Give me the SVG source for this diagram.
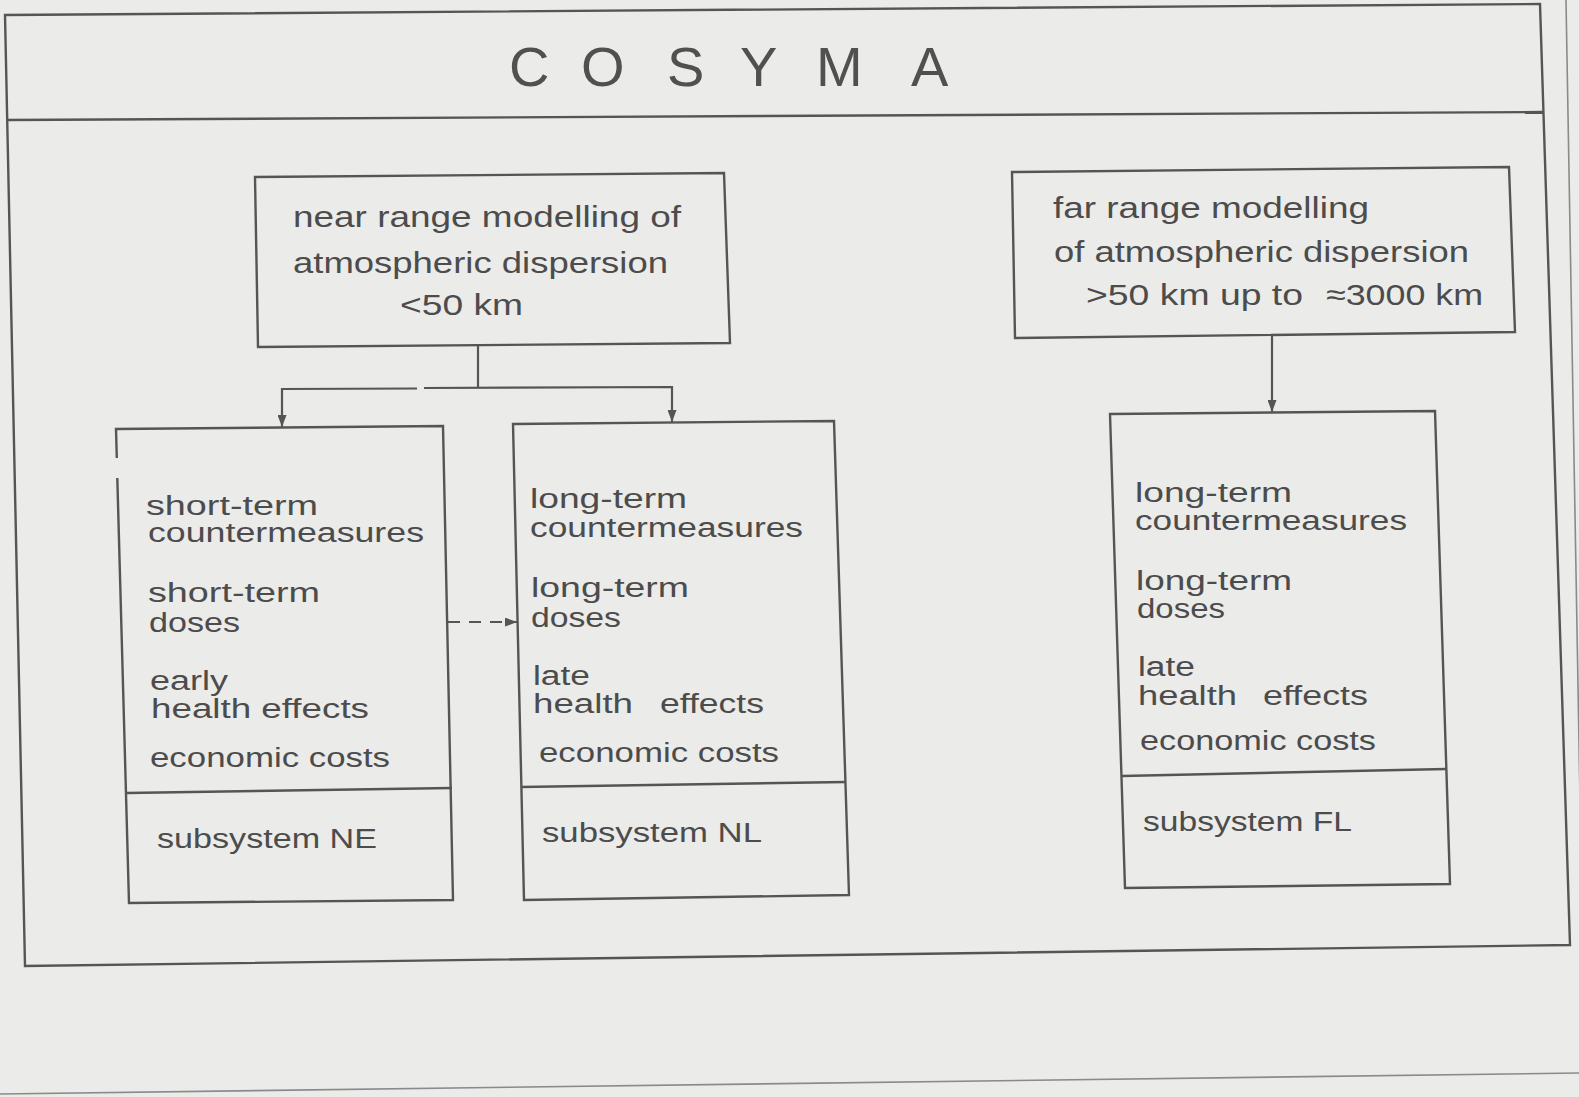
<svg xmlns="http://www.w3.org/2000/svg" width="1579" height="1097" viewBox="0 0 1579 1097">
<style>
.ln{fill:none;stroke:#555;stroke-width:2.4;stroke-linejoin:miter}
.pg{fill:none;stroke:#8a8a8a;stroke-width:1.6}
.t{font-family:"Liberation Sans",Arial,sans-serif;fill:#4c4c4c}
.tt{font-size:30px}
.tb{font-size:27px}
.ttl{font-family:"Liberation Sans",Arial,sans-serif;font-size:56px;fill:#505050}
.con{fill:none;stroke:#555;stroke-width:2.2}
</style>
<defs>
<marker id="ah" viewBox="0 0 12 9" markerWidth="12" markerHeight="9" refX="12" refY="4.5" orient="auto" markerUnits="userSpaceOnUse">
<path d="M0,0 L12,4.5 L0,9 z" fill="#555"/>
</marker>
</defs>
<rect width="1579" height="1097" fill="#ebebe9"/>
<g id="page">
<line class="pg" x1="1566" y1="0" x2="1580" y2="800"/>
<line class="pg" x1="0" y1="1094" x2="1579" y2="1073"/>
</g>
<g id="frame">
<polygon class="ln" points="5,15 1540,4 1570,945 25,966"/>
<line class="ln" x1="7" y1="120" x2="1543" y2="112"/>
<text class="ttl" x="509 581 667 740 816 911" y="86">COSYMA</text>
</g>
<g id="near">
<polygon class="ln" points="255,177 724,173 730,343 258,347"/>
<text class="t tt" x="293" y="227" textLength="388" lengthAdjust="spacingAndGlyphs">near range modelling of</text>
<text class="t tt" x="293" y="273" textLength="375" lengthAdjust="spacingAndGlyphs">atmospheric dispersion</text>
<text class="t tt" x="400" y="315" textLength="123" lengthAdjust="spacingAndGlyphs">&lt;50 km</text>
</g>
<g id="far">
<polygon class="ln" points="1012,172 1509,167 1515,332 1015,338"/>
<text class="t tt" x="1053" y="218" textLength="316" lengthAdjust="spacingAndGlyphs">far range modelling</text>
<text class="t tt" x="1054" y="262" textLength="415" lengthAdjust="spacingAndGlyphs">of atmospheric dispersion</text>
<text class="t tt" y="305"><tspan x="1086" textLength="217" lengthAdjust="spacingAndGlyphs">&gt;50 km up to</tspan> <tspan x="1326" textLength="157" lengthAdjust="spacingAndGlyphs">≈3000 km</tspan></text>
</g>
<g id="ne">
<path class="ln" d="M116.8,458 L116,429 L443,426 L453,900 L129,903 L117.3,478"/>
<line class="ln" x1="127" y1="793" x2="452" y2="788"/>
<text class="t tb" x="146" y="515" textLength="172" lengthAdjust="spacingAndGlyphs">short-term</text>
<text class="t tb" x="148" y="542" textLength="276" lengthAdjust="spacingAndGlyphs">countermeasures</text>
<text class="t tb" x="148" y="602" textLength="172" lengthAdjust="spacingAndGlyphs">short-term</text>
<text class="t tb" x="149" y="632" textLength="91" lengthAdjust="spacingAndGlyphs">doses</text>
<text class="t tb" x="150" y="690" textLength="78" lengthAdjust="spacingAndGlyphs">early</text>
<text class="t tb" x="151" y="718" textLength="218" lengthAdjust="spacingAndGlyphs">health effects</text>
<text class="t tb" x="150" y="767" textLength="240" lengthAdjust="spacingAndGlyphs">economic costs</text>
<text class="t tb" x="157" y="848" textLength="220" lengthAdjust="spacingAndGlyphs">subsystem NE</text>
</g>
<g id="nl">
<polygon class="ln" points="513,424 834,421 849,895 524,900"/>
<line class="ln" x1="521" y1="787" x2="846" y2="782"/>
<text class="t tb" x="530" y="508" textLength="157" lengthAdjust="spacingAndGlyphs">long-term</text>
<text class="t tb" x="530" y="537" textLength="273" lengthAdjust="spacingAndGlyphs">countermeasures</text>
<text class="t tb" x="531" y="597" textLength="158" lengthAdjust="spacingAndGlyphs">long-term</text>
<text class="t tb" x="531" y="627" textLength="90" lengthAdjust="spacingAndGlyphs">doses</text>
<text class="t tb" x="533" y="685" textLength="57" lengthAdjust="spacingAndGlyphs">late</text>
<text class="t tb" y="713"><tspan x="533" textLength="100" lengthAdjust="spacingAndGlyphs">health</tspan> <tspan x="660" textLength="104" lengthAdjust="spacingAndGlyphs">effects</tspan></text>
<text class="t tb" x="539" y="762" textLength="240" lengthAdjust="spacingAndGlyphs">economic costs</text>
<text class="t tb" x="542" y="842" textLength="220" lengthAdjust="spacingAndGlyphs">subsystem NL</text>
</g>
<g id="fl">
<polygon class="ln" points="1110,414 1435,411 1450,884 1125,888"/>
<line class="ln" x1="1122" y1="776" x2="1446" y2="769"/>
<text class="t tb" x="1135" y="502" textLength="157" lengthAdjust="spacingAndGlyphs">long-term</text>
<text class="t tb" x="1135" y="530" textLength="272" lengthAdjust="spacingAndGlyphs">countermeasures</text>
<text class="t tb" x="1136" y="590" textLength="156" lengthAdjust="spacingAndGlyphs">long-term</text>
<text class="t tb" x="1137" y="618" textLength="88" lengthAdjust="spacingAndGlyphs">doses</text>
<text class="t tb" x="1138" y="676" textLength="57" lengthAdjust="spacingAndGlyphs">late</text>
<text class="t tb" y="705"><tspan x="1138" textLength="99" lengthAdjust="spacingAndGlyphs">health</tspan> <tspan x="1263" textLength="105" lengthAdjust="spacingAndGlyphs">effects</tspan></text>
<text class="t tb" x="1140" y="750" textLength="236" lengthAdjust="spacingAndGlyphs">economic costs</text>
<text class="t tb" x="1143" y="831" textLength="209" lengthAdjust="spacingAndGlyphs">subsystem FL</text>
</g>
<g id="connectors">
<path class="con" d="M478,345 V388"/>
<path class="con" d="M417,388.5 L282,389 V427" marker-end="url(#ah)"/>
<path class="con" d="M424,388 L672,387 V422" marker-end="url(#ah)"/>
<path class="con" d="M1272,335 V412" marker-end="url(#ah)"/>
<path class="con" d="M448,622 H517" stroke-dasharray="12 9" marker-end="url(#ah)"/>
</g>
</svg>
